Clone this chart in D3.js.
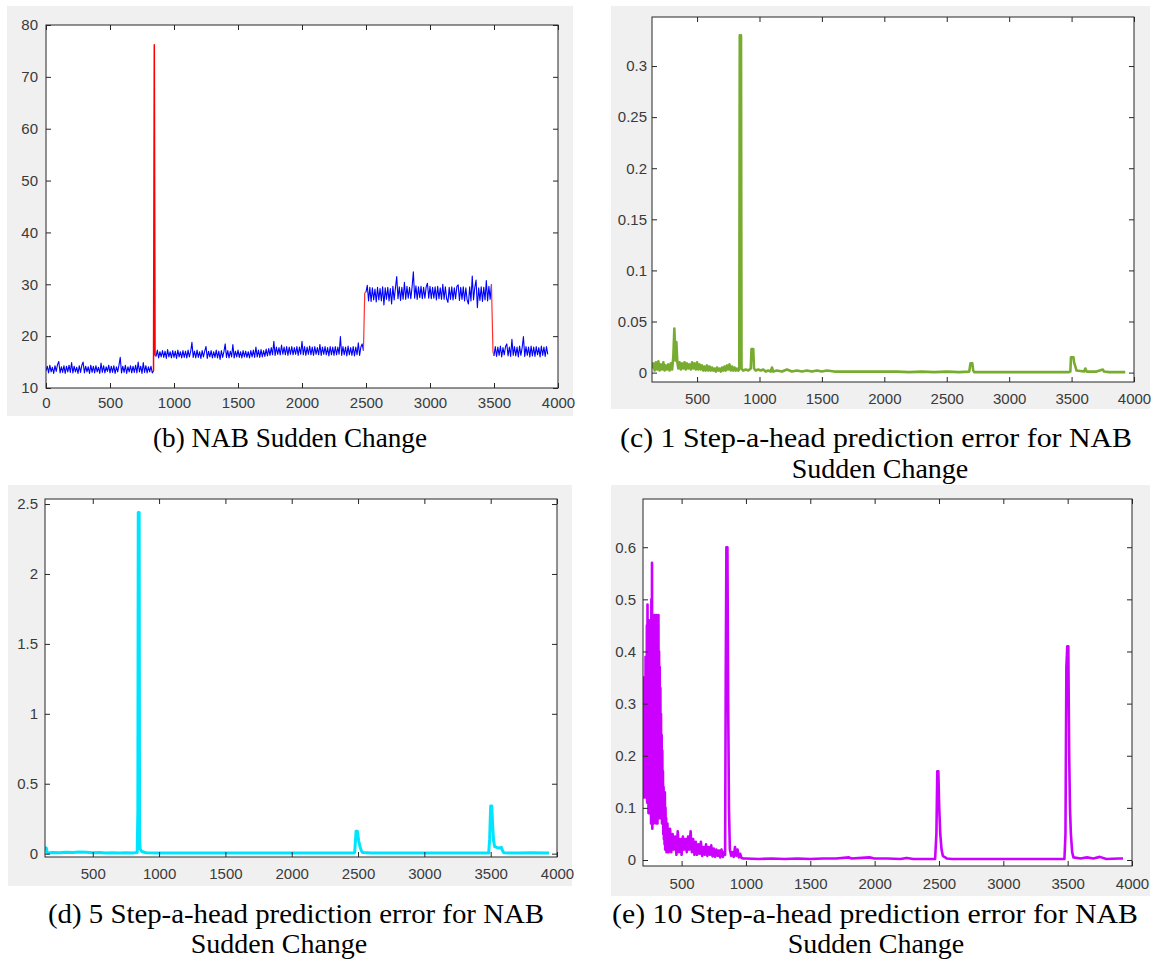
<!DOCTYPE html>
<html><head><meta charset="utf-8">
<script src="https://cdn.jsdelivr.net/npm/d3@7"></script>
<style>body{margin:0;background:#fff} svg{display:block}</style>
</head><body>
<svg id="chart" width="1153" height="960"></svg>
<script>
// ---------- DATA ----------
// (b) NAB Sudden Change: blue segments (start, step 10) and red anomaly jumps
const nabStep = 10;
const nabSeg1Start = 0;
const nabSeg1 = [13.3,14.2,12.9,14.4,13.1,14.0,12.8,14.3,13.2,14.5,
 15.1,12.9,14.1,13.0,14.3,12.8,14.2,13.1,14.4,13.0,
 14.9,12.9,14.2,13.1,14.0,12.8,14.3,13.0,14.4,15.0,
 12.9,14.2,13.1,14.1,12.8,14.4,13.0,14.2,12.9,14.3,
 13.1,14.0,12.8,14.8,13.0,14.3,12.9,14.1,13.2,14.4,
 12.9,14.2,13.0,14.3,12.8,14.1,13.1,14.4,15.9,12.9,
 14.2,13.0,14.4,12.8,14.1,13.1,14.3,12.9,14.2,13.0,
 14.4,12.9,15.0,13.1,14.2,12.8,14.9,13.0,14.3,12.9,
 14.1,13.1,14.2,12.9,13.3];
const nabSeg2Start = 860;
const nabSeg2 = [16.1,17.3,15.8,17.0,16.0,17.2,15.9,17.1,15.7,17.4,
 16.0,17.0,15.8,17.2,15.9,17.1,15.7,17.3,16.0,17.0,
 15.8,17.2,15.9,17.1,15.8,17.3,16.0,17.0,18.8,15.9,
 17.1,15.8,17.3,15.9,17.0,15.7,17.2,16.0,17.1,18.0,
 15.7,17.1,16.0,17.2,15.8,17.0,15.9,17.3,15.8,17.1,
 15.5,17.2,15.9,17.0,18.5,15.9,17.2,15.8,17.1,16.0,
 18.4,15.8,17.1,16.0,17.3,15.9,17.0,15.8,17.2,16.0,
 17.1,15.9,17.0,15.8,17.2,16.0,17.3,15.9,17.9,16.0,
 17.3,15.9,17.4,16.0,17.2,16.1,17.5,16.2,17.6,16.3,
 17.8,16.4,19.0,16.3,17.9,16.5,17.8,16.4,18.3,16.5,
 17.9,16.4,18.0,16.3,17.9,16.5,18.0,16.4,17.8,16.5,
 18.0,16.3,17.9,16.5,19.0,16.4,18.0,16.3,17.9,16.5,
 18.1,16.4,17.9,16.3,18.0,16.5,17.8,16.4,18.4,16.3,
 17.9,16.5,18.0,16.4,17.8,16.2,18.0,16.4,17.9,16.3,
 18.0,16.4,17.9,16.5,19.9,16.3,18.0,16.4,17.9,16.2,
 18.1,16.4,17.8,16.3,18.0,16.2,17.9,16.4,18.7,16.3,
 17.9,18.5,17.2];
const nabSeg3Start = 2500;
const nabSeg3 = [28.5,29.8,26.8,29.4,26.7,29.3,27.0,29.1,26.6,29.4,
 27.0,29.2,26.8,29.5,26.0,29.3,27.1,29.4,26.8,29.2,
 26.2,29.6,27.0,29.3,31.5,27.2,29.5,26.9,29.4,27.1,
 30.4,27.1,29.6,27.3,29.4,27.2,29.5,32.4,27.3,29.7,
 27.1,29.5,27.4,29.6,27.2,29.4,27.3,29.5,30.2,27.3,
 29.6,27.2,29.4,27.3,29.5,27.0,29.6,27.2,29.3,27.1,
 30.0,27.1,29.5,27.2,26.5,29.4,27.1,29.5,27.0,29.3,
 27.2,29.6,29.9,26.9,29.4,27.1,29.5,26.8,29.3,27.0,
 26.2,29.5,26.8,31.6,27.0,29.4,30.8,25.5,29.3,26.9,
 29.5,26.7,29.4,27.0,30.7,26.8,29.6,27.1,30.0];
const nabSeg4Start = 3500;
const nabSeg4 = [16.2,18.0,16.1,17.9,16.3,18.1,16.0,17.8,16.4,18.0,
 18.5,16.2,17.9,16.1,19.4,16.3,18.0,16.2,17.9,16.0,
 18.1,16.3,17.8,19.9,16.1,18.0,16.3,17.9,16.0,18.1,
 16.2,17.9,16.1,18.0,16.4,17.8,16.0,18.1,16.3,17.9,
 16.1,18.0,16.5];
const redJump1X = [840, 846, 852, 860];
const redJump1Y = [13.3, 76.2, 16.4, 16.1];
const redJump2X = [2480, 2490, 2500];
const redJump2Y = [17.2, 28.3, 28.5];
const redJump3X = [3480, 3492, 3500];
const redJump3Y = [30.0, 17.0, 16.2];

// (c) 1 step-a-head prediction error
const err1X = [140,150,160,170,180,190,200,210,220,230,240,250,260,270,280,290,300,310,318,326,334,342,350,360,370,380,390,400,410,420,430,440,450,460,470,480,490,500,510,520,530,540,550,560,570,580,590,600,610,620,630,640,650,660,670,680,690,700,710,720,730,740,750,760,770,780,790,800,810,820,830,838,842,852,856,870,890,910,930,936,950,956,970,990,1010,1030,1050,1070,1090,1100,1110,1140,1180,1220,1260,1300,1340,1380,1420,1460,1500,1540,1600,1700,1800,1900,2000,2100,2200,2300,2400,2500,2600,2680,2690,2705,2712,2720,2800,2900,3000,3100,3200,3300,3400,3480,3490,3495,3515,3520,3530,3540,3600,3610,3620,3700,3750,3760,3800,3900,3930];
const err1Y = [0.004,0.009,0.002,0.010,0.003,0.011,0.002,0.008,0.003,0.010,0.002,0.007,0.003,0.008,0.002,0.009,0.003,0.016,0.043,0.012,0.030,0.010,0.004,0.010,0.003,0.009,0.004,0.010,0.003,0.009,0.004,0.008,0.003,0.010,0.004,0.009,0.003,0.010,0.003,0.008,0.003,0.007,0.002,0.006,0.002,0.007,0.002,0.006,0.002,0.005,0.002,0.004,0.001,0.005,0.002,0.004,0.001,0.005,0.002,0.006,0.002,0.007,0.003,0.008,0.002,0.006,0.002,0.005,0.002,0.004,0.002,0.003,0.330,0.330,0.004,0.002,0.003,0.002,0.004,0.023,0.023,0.004,0.002,0.003,0.002,0.003,0.001,0.002,0.001,0.005,0.001,0.002,0.001,0.003,0.001,0.002,0.001,0.002,0.001,0.002,0.001,0.002,0.001,0.001,0.001,0.001,0.001,0.001,0.0005,0.001,0.0005,0.001,0.0005,0.001,0.009,0.009,0.002,0.0005,0.0005,0.0005,0.0005,0.0005,0.0005,0.0005,0.0005,0.0005,0.001,0.015,0.015,0.010,0.006,0.002,0.001,0.004,0.001,0.001,0.003,0.001,0.0005,0.0005,0.0005];

// (d) 5 step-a-head prediction error
const err5X = [140,150,155,160,200,250,300,350,400,450,500,550,600,650,700,750,800,835,840,843,850,853,858,870,900,1000,1100,1200,1400,1600,1800,2000,2200,2400,2470,2475,2485,2495,2505,2515,2525,2535,2600,2800,3000,3200,3400,3485,3492,3500,3508,3515,3522,3530,3545,3560,3580,3590,3600,3700,3800,3940];
const err5Y = [0.045,0.040,0.015,0.005,0.008,0.006,0.010,0.008,0.012,0.010,0.006,0.009,0.005,0.007,0.004,0.006,0.005,0.008,0.30,2.44,2.44,0.10,0.03,0.015,0.006,0.005,0.004,0.005,0.004,0.005,0.004,0.005,0.004,0.005,0.004,0.010,0.160,0.160,0.090,0.050,0.020,0.008,0.004,0.005,0.004,0.005,0.004,0.004,0.10,0.34,0.34,0.20,0.09,0.05,0.045,0.040,0.045,0.020,0.006,0.004,0.006,0.004];

// (e) 10 step-a-head prediction error
const err10X = [200,202.5,205,207.5,210,212.5,215,217.5,220,222.5,225,227.5,230,232.5,235,237.5,240,242.5,245,247.5,250,252.5,255,257.5,260,262.5,265,267.5,270,272.5,275,277.5,280,282.5,285,287.5,290,292.5,295,297.5,300,302.5,305,307.5,310,312.5,315,317.5,320,322.5,325,327.5,330,332.5,335,337.5,340,342.5,345,347.5,350,352.5,355,357.5,360,362.5,365,367.5,370,372.5,375,377.5,380,382.5,385,387.5,390,395,
 400,410,420,430,440,450,460,470,480,490,500,510,520,530,540,550,560,570,580,590,600,610,620,630,640,650,660,670,680,690,700,710,720,730,740,750,760,770,780,790,800,810,820,830,838,843,848,856,862,868,875,885,895,905,915,925,935,945,955,965,980,1000,1100,1200,1300,1400,1500,1600,1700,1800,1820,1900,1960,2000,2100,2200,2250,2300,2400,2470,2480,2487,2495,2502,2510,2520,2530,2560,2600,2700,2800,2900,3000,3100,3200,3300,3400,3475,3483,3490,3497,3505,3512,3518,3525,3535,3545,3600,3650,3700,3750,3800,3900,3930];
const err10Y = [0.18,0.13,0.35,0.12,0.28,0.14,0.33,0.12,0.39,0.15,0.30,0.13,0.45,0.11,0.49,0.16,0.38,0.09,0.44,0.12,0.46,0.09,0.35,0.13,0.40,0.07,0.50,0.10,0.57,0.06,0.42,0.09,0.45,0.07,0.38,0.10,0.47,0.08,0.40,0.11,0.46,0.07,0.47,0.09,0.36,0.07,0.46,0.10,0.47,0.08,0.40,0.11,0.37,0.10,0.33,0.08,0.28,0.09,0.24,0.07,0.21,0.08,0.17,0.05,0.14,0.04,0.13,0.03,0.13,0.02,0.10,0.02,0.08,0.015,0.07,0.015,0.07,0.02,
 0.015,0.06,0.015,0.05,0.02,0.045,0.01,0.055,0.015,0.04,0.01,0.045,0.02,0.04,0.015,0.045,0.02,0.055,0.015,0.04,0.01,0.035,0.01,0.03,0.012,0.035,0.008,0.025,0.01,0.03,0.008,0.025,0.01,0.028,0.007,0.022,0.006,0.02,0.008,0.018,0.005,0.02,0.006,0.015,0.01,0.35,0.60,0.60,0.30,0.10,0.02,0.008,0.015,0.006,0.025,0.008,0.02,0.005,0.012,0.004,0.003,0.003,0.002,0.003,0.002,0.003,0.002,0.003,0.003,0.005,0.003,0.004,0.005,0.003,0.003,0.002,0.004,0.002,0.002,0.002,0.05,0.17,0.17,0.10,0.05,0.02,0.008,0.003,0.002,0.002,0.002,0.002,0.002,0.002,0.002,0.002,0.002,0.002,0.05,0.37,0.41,0.41,0.20,0.10,0.05,0.015,0.005,0.003,0.005,0.003,0.006,0.002,0.003,0.003];

// ticks
const xTicksB = [0,500,1000,1500,2000,2500,3000,3500,4000];
const yTicksB = [10,20,30,40,50,60,70,80];
const xTicksErr = [500,1000,1500,2000,2500,3000,3500,4000];
const yTicksC = [0,0.05,0.1,0.15,0.2,0.25,0.3];
const yLabelsC = ["0","0.05","0.1","0.15","0.2","0.25","0.3"];
const yTicksD = [0,0.5,1,1.5,2,2.5];
const yLabelsD = ["0","0.5","1","1.5","2","2.5"];
const yTicksE = [0,0.1,0.2,0.3,0.4,0.5,0.6];
const yLabelsE = ["0","0.1","0.2","0.3","0.4","0.5","0.6"];

const captionB = ["(b) NAB Sudden Change"];
const captionC = ["(c) 1 Step-a-head prediction error for NAB", "Sudden Change"];
const captionD = ["(d) 5 Step-a-head prediction error for NAB", "Sudden Change"];
const captionE = ["(e) 10 Step-a-head prediction error for NAB", "Sudden Change"];

// ---------- DRAW ----------
const svg = d3.select("#chart");
const seg = (start, vals) => vals.map((v,i)=>[start + i*nabStep, v]);
const zip = (xs, ys) => xs.map((x,i)=>[x, ys[i]]);

const panels = [
 { bg:[7,6,566,410], fr:[46,25,558,388], xd:[0,4000], yd:[10,80],
   xt:xTicksB, xl:xTicksB.map(String), yt:yTicksB, yl:yTicksB.map(String), py:8, px:9,
   series:[
    {pts:seg(nabSeg1Start,nabSeg1), c:"#0000ff", w:1.1},
    {pts:seg(nabSeg2Start,nabSeg2), c:"#0000ff", w:1.1},
    {pts:seg(nabSeg3Start,nabSeg3), c:"#0000ff", w:1.1},
    {pts:seg(nabSeg4Start,nabSeg4), c:"#0000ff", w:1.1},
    {pts:zip(redJump1X,redJump1Y), c:"#ff0000", w:1.5},
    {pts:zip(redJump2X,redJump2Y), c:"#ff3030", w:1.2},
    {pts:zip(redJump3X,redJump3Y), c:"#ff3030", w:1.2}
   ],
   cap:captionB, capX:[290], capW:[274], capY:447, lh:31 },
 { bg:[611,6,539,403], fr:[652,17,1134,382], xd:[139,4000], yd:[-0.0092,0.348],
   xt:xTicksErr, xl:xTicksErr.map(String), yt:yTicksC, yl:yLabelsC, py:5, px:11,
   series:[{pts:zip(err1X,err1Y), c:"#77ac30", w:2.6}],
   cap:captionC, capX:[876,880], capW:[512,null], capY:447, lh:31 },
 { bg:[8,485,564,401], fr:[45,499,557,857], xd:[140,4000], yd:[-0.024,2.536],
   xt:xTicksErr, xl:xTicksErr.map(String), yt:yTicksD, yl:yLabelsD, py:7, px:11,
   series:[{pts:zip(err5X,err5Y), c:"#00e5ff", w:3}],
   cap:captionD, capX:[296,279], capW:[496,null], capY:923, lh:30 },
 { bg:[611,485,539,411], fr:[643,499,1132,866], xd:[200,4000], yd:[-0.0115,0.6925],
   xt:xTicksErr, xl:xTicksErr.map(String), yt:yTicksE, yl:yLabelsE, py:7, px:12,
   series:[{pts:zip(err10X,err10Y), c:"#cc00ff", w:2.6}],
   cap:captionE, capX:[875,876], capW:[526,null], capY:923, lh:30 }
];

panels.forEach((p, pi) => {
  const g = svg.append("g");
  g.append("rect").attr("x",p.bg[0]).attr("y",p.bg[1]).attr("width",p.bg[2]).attr("height",p.bg[3]).attr("fill","#f0f0f0");
  const [x0,y0,x1,y1] = p.fr;
  g.append("rect").attr("x",x0).attr("y",y0).attr("width",x1-x0).attr("height",y1-y0).attr("fill","#fff");
  const x = d3.scaleLinear().domain(p.xd).range([x0,x1]);
  const y = d3.scaleLinear().domain(p.yd).range([y1,y0]);

  const clipId = "clip"+pi;
  g.append("clipPath").attr("id",clipId).append("rect").attr("x",x0).attr("y",y0).attr("width",x1-x0).attr("height",y1-y0);
  const line = d3.line().x(d=>x(d[0])).y(d=>y(d[1]));
  const sg = g.append("g").attr("clip-path",`url(#${clipId})`);
  p.series.forEach(s => {
    sg.append("path").datum(s.pts).attr("d",line).attr("fill","none")
      .attr("stroke",s.c).attr("stroke-width",s.w).attr("stroke-linejoin","round");
  });

  const styleAxis = sel => {
    sel.select(".domain").remove();
    sel.selectAll(".tick line").attr("stroke","#262626").attr("stroke-width",1);
    sel.selectAll(".tick text").attr("fill","#3a3a3a").style("font-family","'Liberation Sans', Arial, sans-serif").style("font-size","15px");
  };
  g.append("g").attr("transform",`translate(0,${y1})`)
    .call(d3.axisBottom(x).tickValues(p.xt).tickFormat((d,i)=>p.xl[i]).tickSizeInner(-5).tickSizeOuter(0).tickPadding(p.px)).call(styleAxis);
  g.append("g").attr("transform",`translate(0,${y0})`)
    .call(d3.axisTop(x).tickValues(p.xt).tickFormat("").tickSizeInner(-5).tickSizeOuter(0)).call(styleAxis);
  g.append("g").attr("transform",`translate(${x0},0)`)
    .call(d3.axisLeft(y).tickValues(p.yt).tickFormat((d,i)=>p.yl[i]).tickSizeInner(-5).tickSizeOuter(0).tickPadding(p.py)).call(styleAxis);
  g.append("g").attr("transform",`translate(${x1},0)`)
    .call(d3.axisRight(y).tickValues(p.yt).tickFormat("").tickSizeInner(-5).tickSizeOuter(0)).call(styleAxis);

  g.append("rect").attr("x",x0).attr("y",y0).attr("width",x1-x0).attr("height",y1-y0)
    .attr("fill","none").attr("stroke","#262626").attr("stroke-width",1);

  p.cap.forEach((t, li) => {
    const tx = g.append("text").attr("x",p.capX[li]).attr("y",p.capY + li*p.lh).attr("text-anchor","middle")
      .style("font-family","'Liberation Serif','Times New Roman',serif").style("font-size","28px")
      .attr("fill","#000").text(t);
    if (p.capW[li]) tx.attr("textLength",p.capW[li]).attr("lengthAdjust","spacingAndGlyphs");
  });
});
</script>
</body></html>
